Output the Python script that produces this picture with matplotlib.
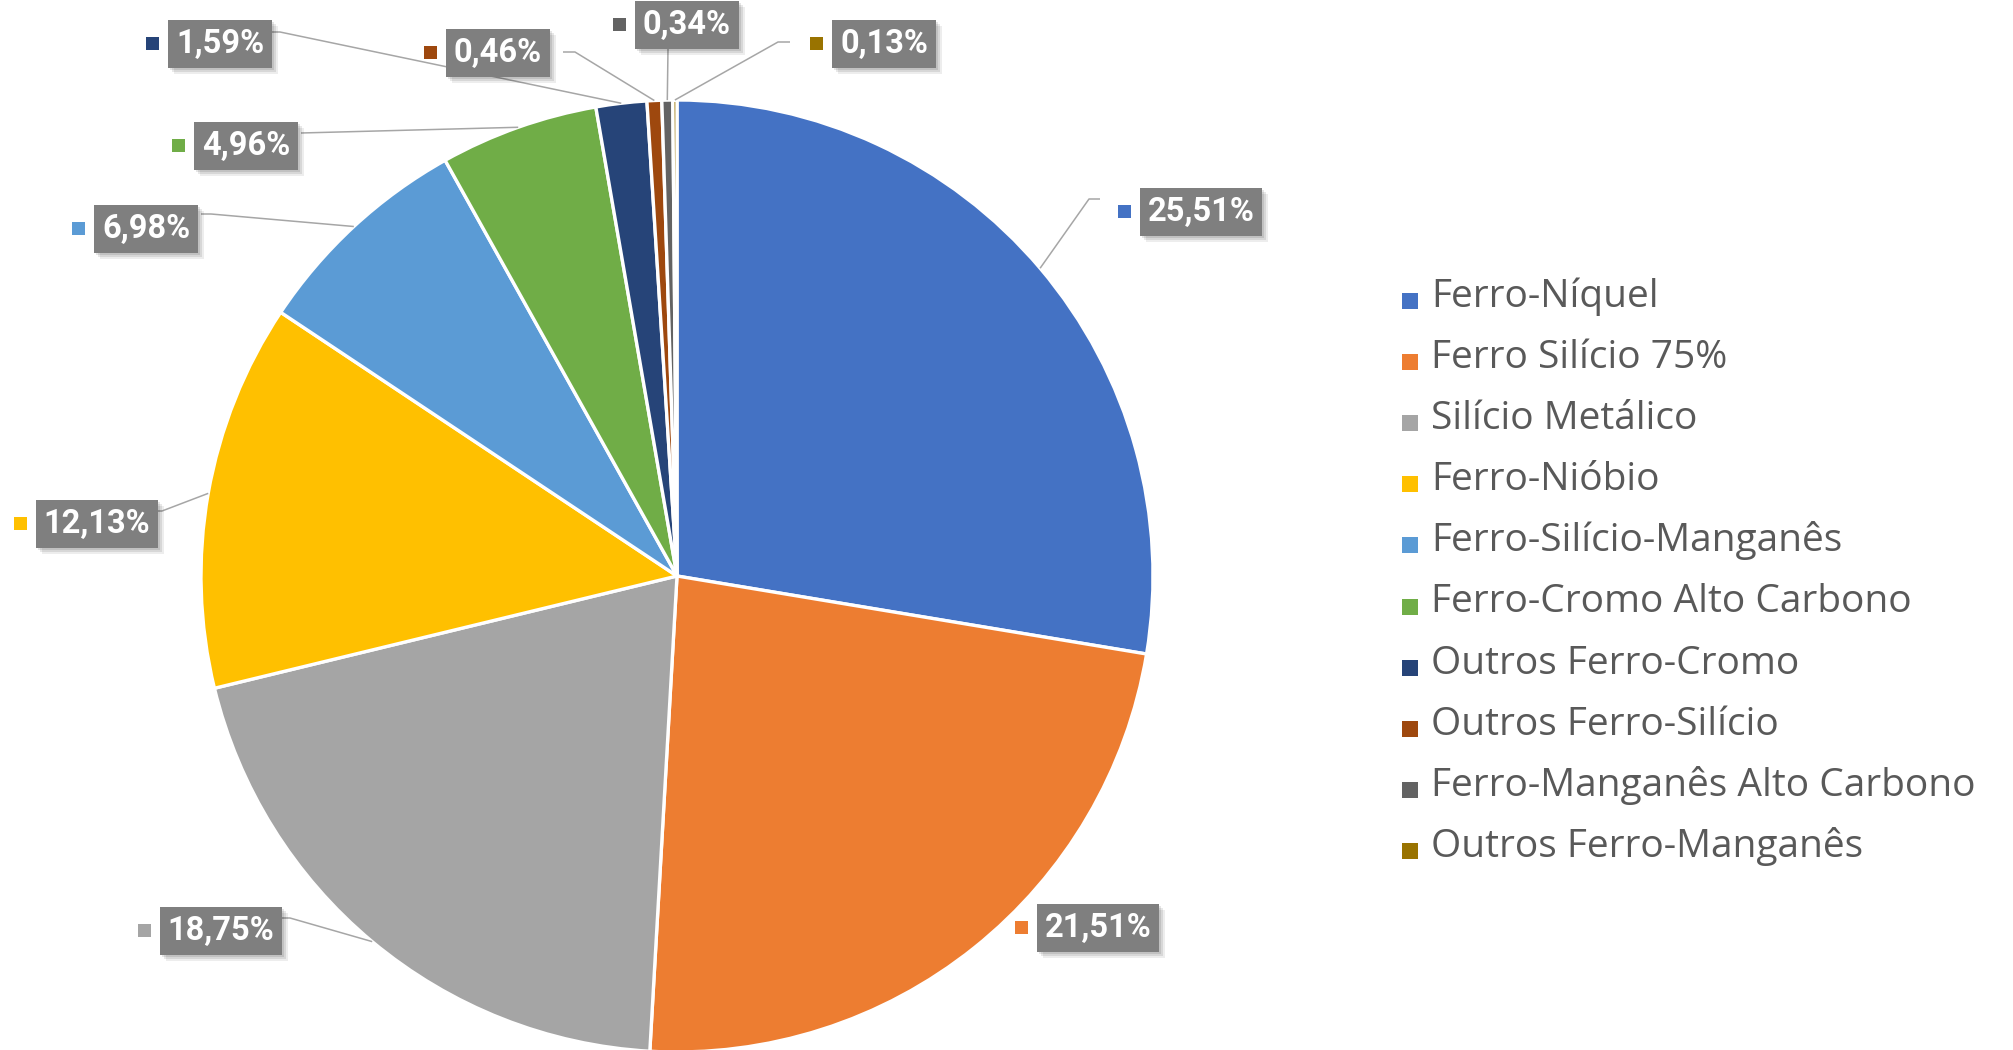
import matplotlib
matplotlib.use("Agg")
import matplotlib.pyplot as plt
from matplotlib.patches import Rectangle
import numpy as np

# ---------------- data ----------------
categories = ["Ferro-Níquel", "Ferro Silício 75%", "Silício Metálico", "Ferro-Nióbio",
              "Ferro-Silício-Manganês", "Ferro-Cromo Alto Carbono", "Outros Ferro-Cromo",
              "Outros Ferro-Silício", "Ferro-Manganês Alto Carbono", "Outros Ferro-Manganês"]
shares = [25.51, 21.51, 18.75, 12.13, 6.98, 4.96, 1.59, 0.46, 0.34, 0.13]

# ---------------- styles ----------------
colors = ["#4472C4", "#ED7D31", "#A5A5A5", "#FFC000", "#5B9BD5",
          "#70AD47", "#264478", "#9E480E", "#636363", "#997300"]

W, H = 2013, 1050
CX, CY, R = 677, 576, 476

# label box centres (px, origin top-left)
box_centres = [(1201, 211), (1098, 927), (221, 930), (97, 523), (146, 228),
               (246, 145), (220, 43), (498, 52), (687, 24), (884, 43)]
# leader line: (bend point, end point) in px, None = no leader
leaders = [((1089, 199), (1100, 199)), None, ((290, 918), (280, 918)),
           ((162, 511), (152, 511)), ((211, 214), (201, 214)),
           ((301, 133), (301, 133)), ((280, 32), (270, 32)),
           ((575, 52), (563, 52)), ((668, 49), (668, 49)), ((778, 42), (790, 42))]

label_font = dict(family=["Roboto", "DejaVu Sans"], weight="bold", size=23.5)
legend_font = dict(family=["Open Sans", "DejaVu Sans"], size=28)

fig = plt.figure(figsize=(W / 100, H / 100), dpi=100)
fig.patch.set_facecolor("white")

ax = fig.add_axes([(CX - R) / W, (H - CY - R) / H, 2 * R / W, 2 * R / H])
wedges, _ = ax.pie(shares, colors=colors, startangle=90, counterclock=False,
                   wedgeprops=dict(edgecolor="white", linewidth=2.4))
ax.set_xlim(-1, 1)
ax.set_ylim(-1, 1)
ax.set_aspect("equal")
for w in wedges:
    w.set_clip_on(False)

ov = fig.add_axes([0, 0, 1, 1], zorder=5)
ov.set_xlim(0, W)
ov.set_ylim(H, 0)
ov.axis("off")
ov.patch.set_alpha(0)

fig.canvas.draw()

def fmt(v):
    return f"{v:.2f}".replace(".", ",") + "%"

labels = []
for i, (w, v) in enumerate(zip(wedges, shares)):
    bx, by = box_centres[i]
    if leaders[i] is not None:
        th = np.deg2rad((w.theta1 + w.theta2) / 2)
        dx, dy = ax.transData.transform((w.r * np.cos(th), w.r * np.sin(th)))
        sx, sy = dx, H - dy
        (kx, ky), (ex, ey) = leaders[i]
        ov.plot([sx, kx, ex], [sy, ky, ey], color="#A6A6A6", lw=1.1,
                solid_capstyle="butt", zorder=1)
    t = ov.text(bx, by + 1, fmt(v), color="white", ha="center", va="center",
                bbox=dict(boxstyle="square,pad=0.24", fc="#7F7F7F", ec="none"),
                zorder=4, **label_font)
    labels.append(t)

fig.canvas.draw()
renderer = fig.canvas.get_renderer()
for i, t in enumerate(labels):
    bb = t.get_bbox_patch().get_window_extent(renderer)
    x0, x1 = bb.x0, bb.x1
    y0, y1 = H - bb.y1, H - bb.y0
    # soft drop shadow
    for off, a in ((6, 0.07), (4, 0.09), (2, 0.10)):
        ov.add_patch(Rectangle((x0 + off, y0 + off), x1 - x0, y1 - y0,
                               facecolor="black", edgecolor="none", alpha=a, zorder=2))
    bx, by = box_centres[i]
    s = 13
    ov.add_patch(Rectangle((x0 - 15.5 - s / 2, by - s / 2), s, s,
                           facecolor=colors[i], edgecolor="none", zorder=3))

# legend
leg_x_sq, leg_x_txt, base0, step = 1402, 1431, 307, 61.1
for i, name in enumerate(categories):
    yb = base0 + i * step
    ov.add_patch(Rectangle((leg_x_sq, yb - 14), 16, 16, facecolor=colors[i],
                           edgecolor="none", zorder=3))
    ov.text(leg_x_txt, yb, name, color="#595959", ha="left", va="baseline",
            zorder=3, **legend_font)

fig.savefig("out.png", dpi=100, facecolor="white")
